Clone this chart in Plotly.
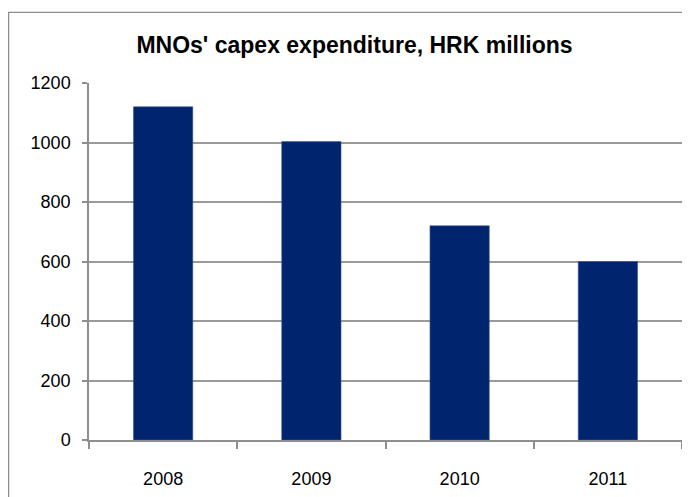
import plotly.graph_objects as go

years = ["2008", "2009", "2010", "2011"]
capex = [1120, 1003, 720, 600]
y_ticks = [0, 200, 400, 600, 800, 1000, 1200]

# page has an 8px body margin; figure fills the rest of the 690x497 window
OFF = 8
W, H = 690 - OFF, 497 - OFF
L, R, T, B = 89 - OFF, 8, 83 - OFF, 497 - 442
pw, ph = W - L - R, H - T - B

fig = go.Figure(go.Bar(
    x=years, y=capex, width=0.4,
    marker=dict(color="#00246E", line=dict(color="#3A5A95", width=0.6)),
))

def px2paper_x(px):
    return (px - OFF - L) / pw

def px2paper_y(py):
    return (H - B - (py - OFF)) / ph

fig.add_shape(type="rect", xref="paper", yref="paper",
              x0=px2paper_x(8.6), x1=px2paper_x(760), y0=px2paper_y(560), y1=px2paper_y(12),
              line=dict(color="#8E8E8E", width=1.3), fillcolor="rgba(0,0,0,0)", layer="below")

fig.update_layout(
    width=W, height=H,
    margin=dict(l=L, r=R, t=T, b=B),
    paper_bgcolor="white", plot_bgcolor="white",
    showlegend=False,
    title=dict(text="<b>MNOs' capex expenditure, HRK millions</b>",
               font=dict(family="Liberation Sans, Arial", size=23, color="black"),
               x=(354.5 - OFF) / W, xanchor="center", xref="container",
               y=1 - (44.7 - OFF) / H, yanchor="middle", yref="container"),
    font=dict(family="Liberation Sans, Arial", size=18, color="black"),
    bargap=0.6,
)
fig.update_xaxes(
    type="category", showline=True, linecolor="#8E8E8E", linewidth=1.5,
    ticks="outside", ticklen=7, tickcolor="#8E8E8E", tickwidth=1.5, tickson="boundaries",
    showgrid=False, ticklabelstandoff=22,
    tickfont=dict(size=18),
)
fig.update_yaxes(
    range=[0, 1200], tickvals=y_ticks, ticktext=[str(v) for v in y_ticks],
    showline=True, linecolor="#8E8E8E", linewidth=1.5,
    ticks="outside", ticklen=5, tickcolor="#8E8E8E", tickwidth=1.5,
    showgrid=True, gridcolor="#9A9A9A", gridwidth=1.5, zeroline=False,
    ticklabelstandoff=8,
    tickfont=dict(size=18),
)

fig.write_html("out.html")
